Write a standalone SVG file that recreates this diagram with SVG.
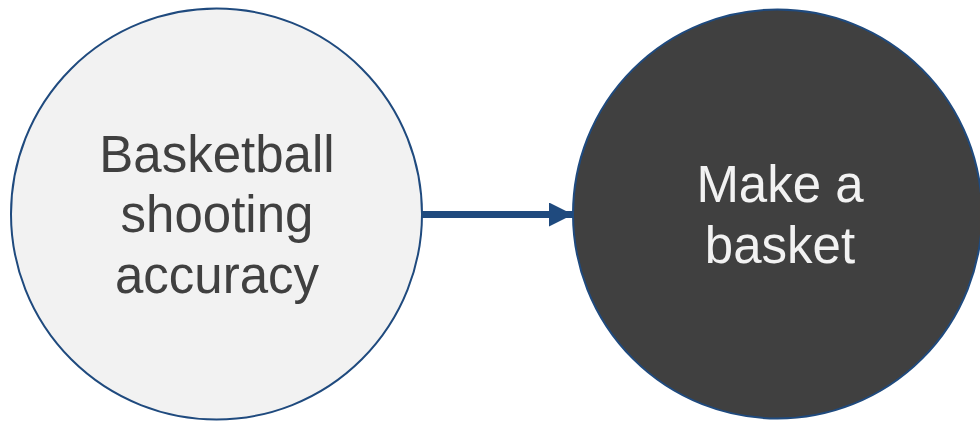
<svg xmlns="http://www.w3.org/2000/svg" width="980" height="422" viewBox="0 0 980 422">
  <defs>
    <style>
      .node { stroke: #1F4A7E; stroke-width: 2; }
      .label { font-family: "Liberation Sans", Arial, sans-serif; font-size: 51px; text-anchor: middle; }
      .edge { stroke: #1F4A7E; stroke-width: 7; fill: none; }
    </style>
    <marker id="arrow" markerUnits="userSpaceOnUse" markerWidth="26" markerHeight="26" refX="24" refY="12" orient="auto">
      <path d="M0,0 L24,12 L0,24 Z" fill="#1F4A7E"/>
    </marker>
  </defs>

  <rect width="980" height="422" fill="#FFFFFF"/>

  <g id="connectors">
    <line class="edge" x1="422" y1="214.5" x2="573" y2="214.5" marker-end="url(#arrow)"/>
  </g>

  <g id="node-accuracy">
    <circle class="node" cx="216.5" cy="214" r="205.5" fill="#F2F2F2"/>
    <text class="label" fill="#404040"><tspan x="217" y="172">Basketball</tspan><tspan x="217" y="232">shooting</tspan><tspan x="217" y="293">accuracy</tspan></text>
  </g>

  <g id="node-basket">
    <circle class="node" cx="777.5" cy="214" r="204.5" fill="#404040"/>
    <text class="label" fill="#F2F2F2"><tspan x="780" y="202">Make a</tspan><tspan x="780" y="263">basket</tspan></text>
  </g>
</svg>
